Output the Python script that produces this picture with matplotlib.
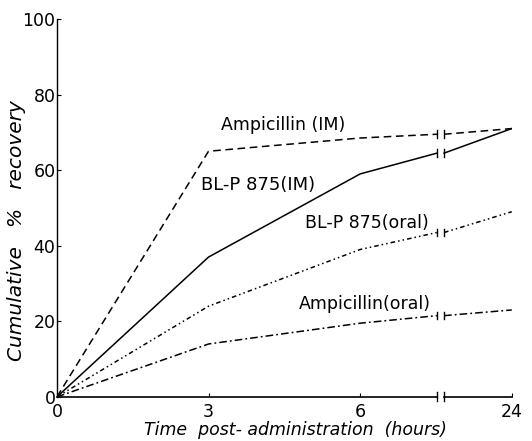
import matplotlib.pyplot as plt
import numpy as np

# hours sampled; the 24 h point sits after an axis break
times = [0, 3, 6, 24]
tick_labels = ['0', '3', '6', '24']

amp_im = [0, 65, 68.5, 71]
blp_im = [0, 37, 59, 71]
blp_oral = [0, 24, 39, 49]
amp_oral = [0, 14, 19.5, 23]

# value at the axis break
amp_im_brk = 69.5
blp_im_brk = 64.5
blp_oral_brk = 43.5
amp_oral_brk = 21.5

# x position of 24h and the break gap (axis units)
pos = {0: 0, 3: 3, 6: 6, 24: 9.0}
brk_a, brk_b = 7.52, 7.66

plt.rcParams['font.family'] = 'DejaVu Sans'
fig = plt.figure(figsize=(5.32, 4.41), dpi=100)
ax = fig.add_axes([0.107, 0.1, 0.855, 0.857])

series = [
    (amp_im, amp_im_brk, (0, (5, 3))),
    (blp_im, blp_im_brk, '-'),
    (blp_oral, blp_oral_brk, (0, (3, 2, 1, 2, 1, 2))),
    (amp_oral, amp_oral_brk, (0, (5, 2, 1.2, 2))),
]

for vals, bv, ls in series:
    xs = [pos[t] for t in times[:3]] + [brk_a]
    ys = vals[:3] + [bv]
    ax.plot(xs, ys, color='black', lw=1.1, ls=ls)
    ax.plot([brk_b, pos[24]], [bv, vals[3]], color='black', lw=1.1, ls=ls)
    # little end bars at the break
    ax.plot([brk_a, brk_a], [bv - 1, bv + 1], color='black', lw=1)
    ax.plot([brk_b, brk_b], [bv - 1, bv + 1], color='black', lw=1)

ax.set_xlim(0, 9.0)
ax.set_ylim(0, 100)

ax.spines['top'].set_visible(False)
ax.spines['right'].set_visible(False)
ax.spines['bottom'].set_visible(False)
ax.spines['left'].set_linewidth(1.0)

# broken x axis
ax.plot([0, brk_a], [0, 0], color='black', lw=1.2, clip_on=False)
ax.plot([brk_b, 9.0], [0, 0], color='black', lw=1.2, clip_on=False)
ax.plot([brk_a, brk_a], [-1.2, 1.2], color='black', lw=1, clip_on=False)
ax.plot([brk_b, brk_b], [-1.2, 1.2], color='black', lw=1, clip_on=False)

ax.set_xticks([pos[t] for t in times])
ax.set_xticklabels(tick_labels)
ax.set_yticks([0, 20, 40, 60, 80, 100])
ax.tick_params(direction='in', length=3, width=0.8, labelsize=12.5, pad=1)
ax.tick_params(axis='x', pad=4.5)

ax.set_xlabel('Time  post- administration  (hours)', fontsize=12.5,
              style='italic')
ax.set_ylabel('Cumulative   %   recovery', fontsize=14.5, style='italic')
ax.xaxis.set_label_coords(0.525, -0.065)
ax.yaxis.set_label_coords(-0.068, 0.44)

ax.text(3.25, 72, 'Ampicillin (IM)', fontsize=12.5, va='center')
ax.text(2.85, 56, 'BL-P 875(IM)', fontsize=13, va='center')
ax.text(4.9, 46, 'BL-P 875(oral)', fontsize=12.5, va='center')
ax.text(4.78, 24.5, 'Ampicillin(oral)', fontsize=12.5, va='center')

fig.savefig('out.png', dpi=100)
